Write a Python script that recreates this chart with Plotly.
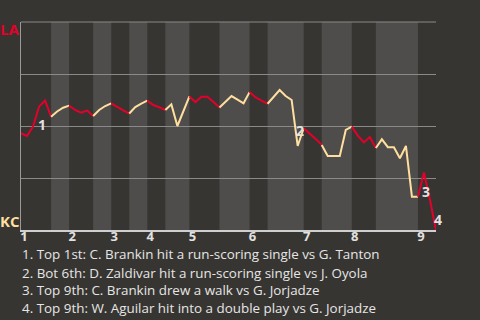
import plotly.graph_objects as go

# ---- data ----
innings = ["1", "2", "3", "4", "5", "6", "7", "8", "9"]
# LA win probability (%) after each plate appearance (index = event number)
wp_la = [46.5, 45.2, 49.7, 59.3, 62.2, 54.5, 57.0, 58.8, 59.8, 57.7,
         56.4, 57.4, 54.8, 57.7, 59.6, 60.9, 59.1, 57.5, 56.0, 59.1,
         60.8, 62.2, 60.1, 59.0, 57.7, 60.4, 50.0, 57.2, 64.2, 61.5,
         64.1, 64.1, 61.5, 58.9, 61.6, 64.4, 62.7, 60.9, 66.3, 63.7,
         62.2, 60.7, 63.9, 67.3, 64.4, 62.5, 40.4, 48.9, 46.4, 43.8,
         40.9, 35.6, 35.6, 35.6, 48.1, 49.7, 45.4, 42.1, 44.7, 39.4,
         43.6, 39.8, 39.8, 34.5, 40.4, 16.0, 16.0, 27.7, 14.4, 0.0]
# event index where each half inning starts (top 1, bot 1, top 2, ...)
half_starts = [0, 5, 8, 12, 15, 18, 21, 24, 28, 33, 38, 41, 47, 50, 55, 59, 66]
notes = [
    "1. Top 1st: C. Brankin hit a run-scoring single vs G. Tanton",
    "2. Bot 6th: D. Zaldivar hit a run-scoring single vs J. Oyola",
    "3. Top 9th: C. Brankin drew a walk vs G. Jorjadze",
    "4. Top 9th: W. Aguilar hit into a double play vs G. Jorjadze",
]
note_events = [3, 46, 67, 69]
teams = ["LA", "KC"]

# ---- styling ----
BG = "#373531"
BAND = "#4e4d4b"
RED = "#e4002b"
CREAM = "#ffdf9f"
GRID = "#8a8a8a"
FONT = "'Open Sans', Lato, sans-serif"

last = len(wp_la) - 1
bounds = half_starts + [last]

fig = go.Figure()
shapes = []
for h in range(len(half_starts)):
    a, b = bounds[h], bounds[h + 1]
    top = (h % 2 == 0)
    if not top:
        shapes.append(dict(type="rect", xref="x", yref="paper", x0=a, x1=b,
                           y0=0, y1=1, fillcolor=BAND, line_width=0, layer="below"))
    xs = list(range(a, b + 1))
    fig.add_trace(go.Scatter(x=xs, y=wp_la[a:b + 1], mode="lines",
                             line=dict(color=RED if top else CREAM, width=2),
                             hoverinfo="skip", showlegend=False))

# top grid line (plotly omits the gridline at the range edge)
shapes.append(dict(type="line", xref="paper", yref="paper", x0=0, x1=1, y0=1, y1=1,
                   line=dict(color=GRID, width=1), layer="below"))

annotations = []
offsets = [(2.6, -17.6), (2.5, 15.3), (2.0, -18.7), (2.3, 10.5)]
for k, ev in enumerate(note_events):
    annotations.append(dict(x=ev, y=wp_la[ev], xref="x", yref="y", text=str(k + 1),
                            showarrow=False, xshift=offsets[k][0], yshift=offsets[k][1],
                            font=dict(family=FONT, size=14, color="#e2e2e2", weight="bold")))

# team labels
annotations.append(dict(x=-0.027, y=0.966, xref="paper", yref="paper", text=teams[0],
                        showarrow=False, xanchor="center", yanchor="middle",
                        font=dict(family=FONT, size=15, color=RED, weight="bold")))
annotations.append(dict(x=-0.027, y=0.043, xref="paper", yref="paper", text=teams[1],
                        showarrow=False, xanchor="center", yanchor="middle",
                        font=dict(family=FONT, size=15, color=CREAM, weight="bold")))

# notes below the chart
note_centers_px = [254.5, 272.5, 290.2, 308.3]
for t, c in zip(notes, note_centers_px):
    annotations.append(dict(x=0, y=(230 - c) / 208, xref="paper", yref="paper", text=t,
                            showarrow=False, xanchor="left", yanchor="middle", xshift=-1,
                            font=dict(family=FONT, size=13.4, color="#e6e6e6")))

fig.update_layout(
    width=480, height=320,
    margin=dict(l=21, r=44, t=22, b=90),
    paper_bgcolor=BG, plot_bgcolor=BG,
    shapes=shapes, annotations=annotations,
    xaxis=dict(range=[0, last], showgrid=False, zeroline=False,
               showline=True, linecolor="#cfcfcf", linewidth=1.5,
               tickmode="array", tickvals=[half_starts[i] + 0.5 for i in range(0, len(half_starts), 2)],
               ticktext=innings, ticks="", ticklabelstandoff=-6,
               tickfont=dict(family=FONT, size=13, color="#e2e2e2", weight="bold")),
    yaxis=dict(range=[0, 100], tickvals=[0, 25, 50, 75, 100], showticklabels=False,
               showgrid=True, gridcolor=GRID, gridwidth=1, zeroline=False,
               showline=True, linecolor="#9a9a9a", linewidth=1, ticks=""),
)

fig.write_html("out.html")
